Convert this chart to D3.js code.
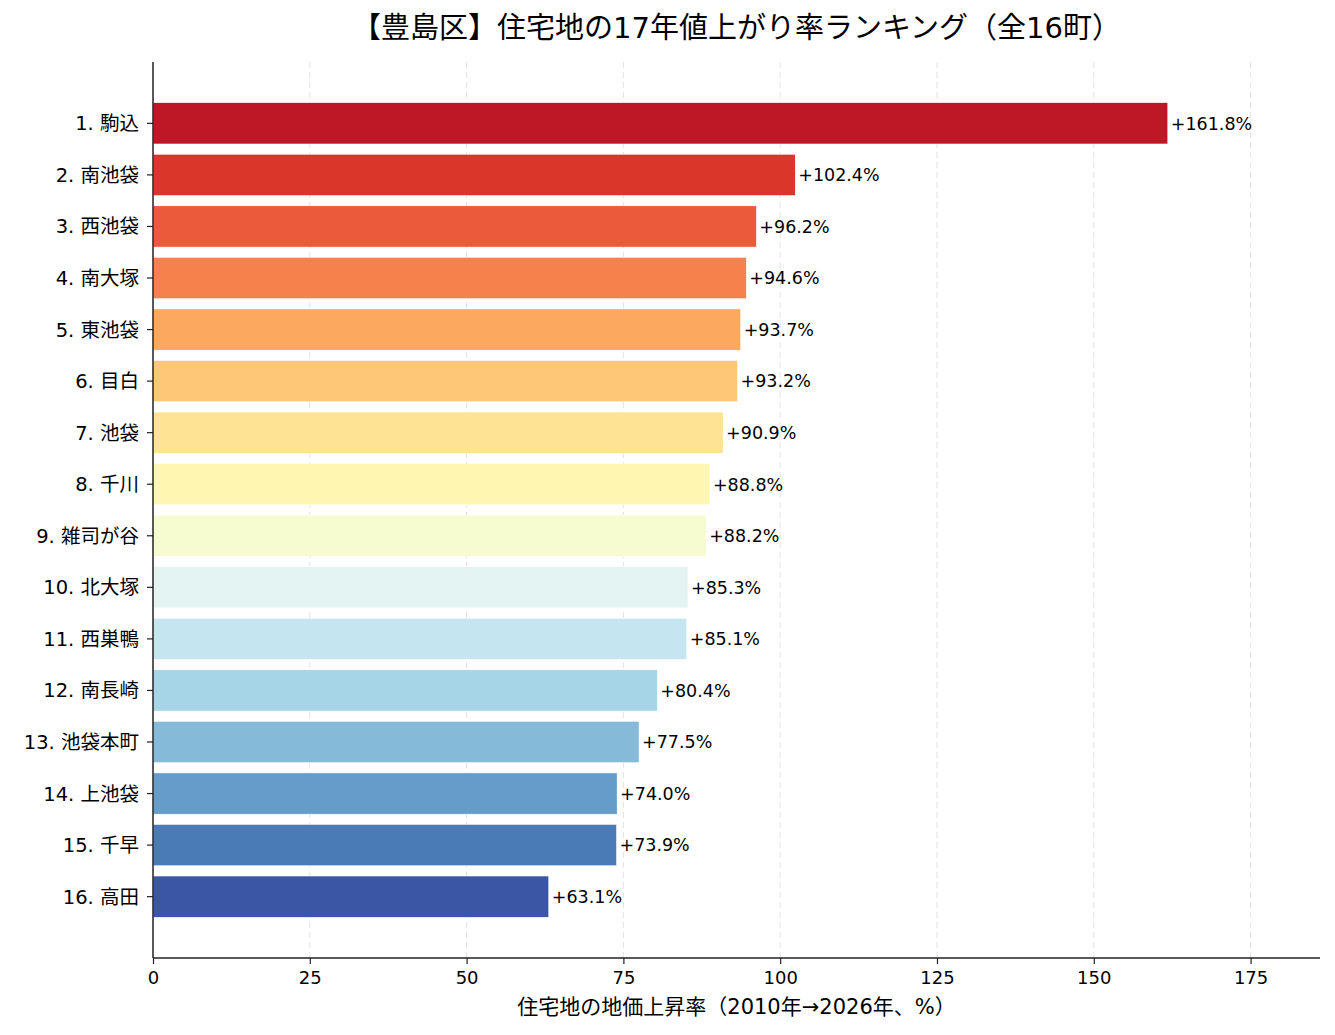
<!DOCTYPE html>
<html>
<head>
<meta charset="utf-8">
<script src="https://cdn.jsdelivr.net/npm/d3@7"></script>
<style>
  body { margin: 0; background: #fff; }
  svg { font-family: "DejaVu Sans", "Noto Sans CJK JP", sans-serif; }
</style>
</head>
<body>
<svg id="chart"></svg>
<script>
// data
const towns = ['駒込', '南池袋', '西池袋', '南大塚', '東池袋', '目白', '池袋', '千川',
    '雑司が谷', '北大塚', '西巣鴨', '南長崎', '池袋本町', '上池袋', '千早', '高田'];
const rates = [161.8, 102.4, 96.2, 94.6, 93.7, 93.2, 90.9, 88.8,
    88.2, 85.3, 85.1, 80.4, 77.5, 74.0, 73.9, 63.1];
const xTicks = [0, 25, 50, 75, 100, 125, 150, 175];

const titleText = '【豊島区】住宅地の17年値上がり率ランキング（全16町）';
const xLabelText = '住宅地の地価上昇率（2010年→2026年、%）';

// RdYlBu anchor colours (matplotlib linear segments)
const rdylbu = ['#a50026', '#d73027', '#f46d43', '#fdae61', '#fee090', '#ffffbf',
    '#e0f3f8', '#abd9e9', '#74add1', '#4575b4', '#313695'];

var width = 1335, height = 1035;
var plot = { left: 153, right: 1320, top: 62, bottom: 958 };

const svg = d3.select('#chart')
    .attr('width', width)
    .attr('height', height);

const cmap = d3.scaleLinear()
    .domain(d3.range(11).map(i => i / 10))
    .range(rdylbu)
    .interpolate(d3.interpolateRgb);

const x = d3.scaleLinear()
    .domain([0, d3.max(rates) * 1.15])
    .range([plot.left, plot.right]);

const n = towns.length;
const y = d3.scaleLinear()
    .domain([-0.4 - 0.79, (n - 1) + 0.4 + 0.79])
    .range([plot.top, plot.bottom]);

// grid
svg.append('g')
    .selectAll('line')
    .data(xTicks.filter(t => t > 0))
    .join('line')
    .attr('x1', d => x(d)).attr('x2', d => x(d))
    .attr('y1', plot.top).attr('y2', plot.bottom)
    .attr('stroke', '#b0b0b0')
    .attr('stroke-opacity', 0.35)
    .attr('stroke-dasharray', '6,4')
    .attr('stroke-width', 1);

// bars
svg.append('g')
    .selectAll('rect')
    .data(rates)
    .join('rect')
    .attr('x', x(0))
    .attr('y', (d, i) => y(i - 0.4))
    .attr('width', d => x(d) - x(0))
    .attr('height', y(0.8) - y(0))
    .attr('fill', (d, i) => cmap(0.05 + 0.06 * i))
    .attr('stroke', '#fff')
    .attr('stroke-width', 0.5);

// value labels
svg.append('g')
    .selectAll('text')
    .data(rates)
    .join('text')
    .attr('x', d => x(d) + 3)
    .attr('y', (d, i) => y(i))
    .attr('dy', '0.36em')
    .attr('font-size', 17.5)
    .attr('fill', '#000')
    .text(d => '+' + d.toFixed(1) + '%');

// y axis
const yAxis = svg.append('g');
yAxis.append('line')
    .attr('x1', plot.left).attr('x2', plot.left)
    .attr('y1', plot.top).attr('y2', plot.bottom)
    .attr('stroke', '#222').attr('stroke-width', 1.5);
yAxis.selectAll('line.tick')
    .data(towns)
    .join('line')
    .attr('class', 'tick')
    .attr('x1', plot.left - 6).attr('x2', plot.left)
    .attr('y1', (d, i) => y(i)).attr('y2', (d, i) => y(i))
    .attr('stroke', '#222').attr('stroke-width', 1.2);
yAxis.selectAll('text')
    .data(towns)
    .join('text')
    .attr('x', plot.left - 14)
    .attr('y', (d, i) => y(i))
    .attr('dy', '0.36em')
    .attr('text-anchor', 'end')
    .attr('font-size', 19.5)
    .attr('fill', '#000')
    .text((d, i) => (i + 1) + '. ' + d);

// x axis
const xAxis = svg.append('g')
    .attr('transform', 'translate(0,' + plot.bottom + ')')
    .call(d3.axisBottom(x).tickValues(xTicks).tickSize(6).tickPadding(7).tickFormat(d3.format('d')));
xAxis.select('.domain').remove();
xAxis.append('line')
    .attr('x1', plot.left).attr('x2', plot.right)
    .attr('stroke', '#222').attr('stroke-width', 1.5);
xAxis.selectAll('.tick line').attr('stroke', '#222').attr('stroke-width', 1.2);
xAxis.selectAll('.tick text')
    .attr('font-size', 18)
    .attr('font-family', '"DejaVu Sans", sans-serif')
    .attr('fill', '#000');

svg.append('text')
    .attr('x', (plot.left + plot.right) / 2)
    .attr('y', 1014)
    .attr('text-anchor', 'middle')
    .attr('font-size', 21)
    .attr('fill', '#000')
    .text(xLabelText);

// title
svg.append('text')
    .attr('x', (plot.left + plot.right) / 2)
    .attr('y', 38)
    .attr('text-anchor', 'middle')
    .attr('font-size', 29)
    .attr('fill', '#000')
    .text(titleText);
</script>
</body>
</html>
